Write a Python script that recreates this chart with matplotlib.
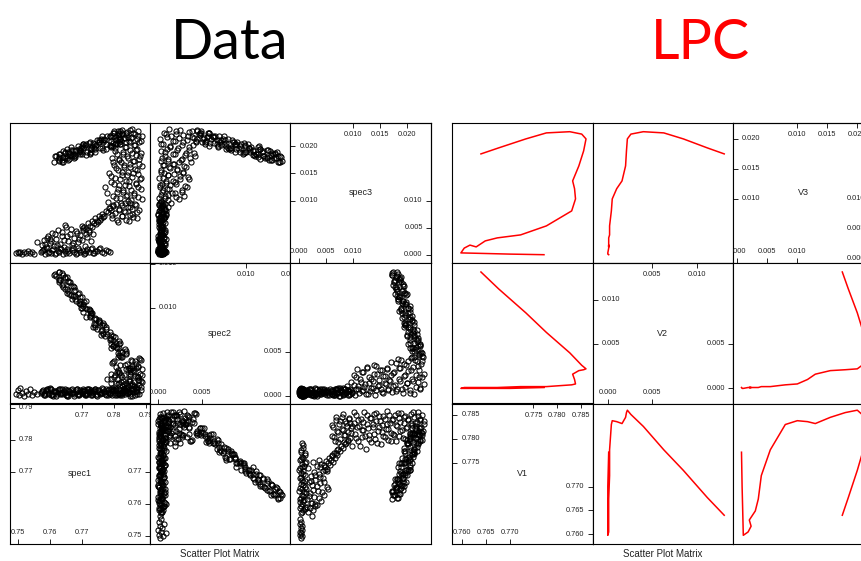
import numpy as np
import matplotlib
matplotlib.use('Agg')
from matplotlib import pyplot as plt

# ---- data points (spec1, spec2, spec3), grouped by the part of the cloud they sit in ----
low_cluster = [
    (0.7494, 0.0002, 0.0004), (0.7499, 0.0006, 0.0006), (0.7503, 0.0001, 0.0003),
    (0.7508, 0.0009, 0.0005), (0.7512, 0.0003, 0.0002), (0.7518, 0.0000, 0.0006),
    (0.7524, 0.0005, 0.0004), (0.7531, 0.0002, 0.0007), (0.7537, 0.0007, 0.0003),
    (0.7544, 0.0001, 0.0005), (0.7551, 0.0004, 0.0002),
]

bottom_line = [
    (0.7571, 0.0003, 0.0005), (0.7579, 0.0006, 0.0009), (0.7586, 0.0001, 0.0002),
    (0.7590, 0.0005, 0.0012), (0.7598, 0.0002, 0.0006), (0.7604, 0.0007, 0.0003),
    (0.7611, 0.0000, 0.0010), (0.7619, 0.0004, 0.0004), (0.7625, 0.0006, 0.0008),
    (0.7632, 0.0002, 0.0013), (0.7640, 0.0003, 0.0001), (0.7646, 0.0008, 0.0007),
    (0.7653, 0.0001, 0.0011), (0.7661, 0.0005, 0.0004), (0.7668, 0.0003, 0.0009),
    (0.7674, 0.0000, 0.0006), (0.7681, 0.0006, 0.0002), (0.7689, 0.0002, 0.0012),
    (0.7695, 0.0004, 0.0005), (0.7702, 0.0007, 0.0008), (0.7710, 0.0001, 0.0003),
    (0.7717, 0.0003, 0.0010), (0.7723, 0.0005, 0.0006), (0.7731, 0.0002, 0.0013),
    (0.7738, 0.0006, 0.0004), (0.7746, 0.0000, 0.0007), (0.7753, 0.0004, 0.0011),
    (0.7762, 0.0003, 0.0005), (0.7775, 0.0007, 0.0009), (0.7789, 0.0002, 0.0006),
    (0.7575, 0.0005, 0.0007), (0.7583, 0.0002, 0.0011), (0.7594, 0.0007, 0.0004),
    (0.7607, 0.0001, 0.0009), (0.7615, 0.0004, 0.0002), (0.7628, 0.0008, 0.0006),
    (0.7636, 0.0003, 0.0010), (0.7649, 0.0006, 0.0003), (0.7657, 0.0000, 0.0008),
    (0.7671, 0.0004, 0.0012), (0.7684, 0.0007, 0.0004), (0.7692, 0.0002, 0.0009),
    (0.7706, 0.0005, 0.0001), (0.7714, 0.0001, 0.0007), (0.7727, 0.0006, 0.0011),
    (0.7735, 0.0003, 0.0003), (0.7742, 0.0008, 0.0008), (0.7758, 0.0002, 0.0012),
    (0.7768, 0.0005, 0.0004), (0.7783, 0.0001, 0.0008),
]

lower_cloud = [
    (0.7574, 0.0004, 0.0018), (0.7581, 0.0001, 0.0027), (0.7588, 0.0006, 0.0015),
    (0.7595, 0.0003, 0.0034), (0.7601, 0.0008, 0.0022), (0.7607, 0.0002, 0.0041),
    (0.7613, 0.0005, 0.0016), (0.7620, 0.0000, 0.0029), (0.7626, 0.0004, 0.0046),
    (0.7633, 0.0007, 0.0021), (0.7639, 0.0002, 0.0035), (0.7645, 0.0005, 0.0014),
    (0.7651, 0.0001, 0.0052), (0.7657, 0.0006, 0.0025), (0.7663, 0.0003, 0.0039),
    (0.7669, 0.0008, 0.0019), (0.7675, 0.0002, 0.0031), (0.7681, 0.0004, 0.0044),
    (0.7687, 0.0001, 0.0023), (0.7693, 0.0006, 0.0037), (0.7699, 0.0003, 0.0028),
    (0.7705, 0.0005, 0.0049), (0.7711, 0.0002, 0.0017), (0.7717, 0.0007, 0.0033),
    (0.7723, 0.0004, 0.0042), (0.7729, 0.0001, 0.0026), (0.7735, 0.0005, 0.0038),
    (0.7600, 0.0009, 0.0030), (0.7647, 0.0003, 0.0055), (0.7560, 0.0002, 0.0024),
    (0.7585, 0.0003, 0.0021), (0.7592, 0.0007, 0.0031), (0.7603, 0.0001, 0.0025),
    (0.7616, 0.0005, 0.0038), (0.7623, 0.0002, 0.0019), (0.7637, 0.0008, 0.0043),
    (0.7644, 0.0004, 0.0027), (0.7655, 0.0000, 0.0034), (0.7666, 0.0006, 0.0047),
    (0.7672, 0.0003, 0.0022), (0.7684, 0.0007, 0.0040), (0.7690, 0.0001, 0.0030),
    (0.7701, 0.0005, 0.0053), (0.7713, 0.0002, 0.0039), (0.7721, 0.0008, 0.0046),
    (0.7733, 0.0004, 0.0051), (0.7744, 0.0001, 0.0056), (0.7751, 0.0006, 0.0061),
    (0.7757, 0.0003, 0.0065), (0.7767, 0.0007, 0.0070),
]

lower_sweep = [
    (0.7702, 0.0003, 0.0045), (0.7708, 0.0006, 0.0052), (0.7714, 0.0002, 0.0048),
    (0.7720, 0.0008, 0.0058), (0.7726, 0.0004, 0.0054), (0.7731, 0.0001, 0.0063),
    (0.7737, 0.0005, 0.0059), (0.7742, 0.0007, 0.0067), (0.7748, 0.0002, 0.0062),
    (0.7753, 0.0006, 0.0071), (0.7759, 0.0003, 0.0068), (0.7764, 0.0009, 0.0076),
    (0.7770, 0.0004, 0.0072), (0.7775, 0.0001, 0.0081), (0.7781, 0.0006, 0.0078),
    (0.7786, 0.0003, 0.0086), (0.7792, 0.0008, 0.0083), (0.7797, 0.0005, 0.0090),
]

column_low = [
    (0.7812, 0.0002, 0.0061), (0.7838, 0.0005, 0.0064), (0.7795, 0.0001, 0.0067),
    (0.7861, 0.0008, 0.0069), (0.7824, 0.0003, 0.0072), (0.7849, 0.0000, 0.0074),
    (0.7803, 0.0006, 0.0077), (0.7872, 0.0004, 0.0079), (0.7831, 0.0009, 0.0081),
    (0.7816, 0.0002, 0.0083), (0.7857, 0.0007, 0.0085), (0.7788, 0.0003, 0.0087),
    (0.7843, 0.0011, 0.0089), (0.7825, 0.0001, 0.0091), (0.7868, 0.0005, 0.0092),
    (0.7806, 0.0008, 0.0094), (0.7851, 0.0002, 0.0095), (0.7835, 0.0006, 0.0096),
    (0.7846, 0.0004, 0.0062), (0.7809, 0.0001, 0.0065), (0.7871, 0.0007, 0.0068),
    (0.7827, 0.0003, 0.0071), (0.7793, 0.0009, 0.0073), (0.7858, 0.0000, 0.0076),
    (0.7834, 0.0005, 0.0079), (0.7880, 0.0002, 0.0082), (0.7815, 0.0008, 0.0085),
    (0.7851, 0.0004, 0.0088), (0.7798, 0.0006, 0.0091), (0.7866, 0.0001, 0.0093),
]

column_mid = [
    (0.7781, 0.0004, 0.0098), (0.7853, 0.0012, 0.0101), (0.7819, 0.0001, 0.0104),
    (0.7877, 0.0021, 0.0106), (0.7797, 0.0008, 0.0109), (0.7842, 0.0003, 0.0111),
    (0.7864, 0.0016, 0.0114), (0.7809, 0.0027, 0.0116), (0.7830, 0.0006, 0.0119),
    (0.7886, 0.0010, 0.0121), (0.7772, 0.0002, 0.0124), (0.7848, 0.0031, 0.0126),
    (0.7815, 0.0014, 0.0129), (0.7869, 0.0005, 0.0131), (0.7792, 0.0019, 0.0134),
    (0.7838, 0.0009, 0.0136), (0.7881, 0.0025, 0.0139), (0.7803, 0.0001, 0.0141),
    (0.7857, 0.0034, 0.0143), (0.7826, 0.0011, 0.0146), (0.7874, 0.0018, 0.0148),
    (0.7786, 0.0007, 0.0151), (0.7845, 0.0029, 0.0153), (0.7812, 0.0003, 0.0156),
    (0.7866, 0.0022, 0.0158), (0.7833, 0.0013, 0.0161), (0.7889, 0.0030, 0.0163),
    (0.7799, 0.0006, 0.0165), (0.7851, 0.0017, 0.0168), (0.7822, 0.0024, 0.0170),
    (0.7821, 0.0015, 0.0096), (0.7843, 0.0003, 0.0099), (0.7887, 0.0024, 0.0102),
    (0.7806, 0.0008, 0.0105), (0.7839, 0.0030, 0.0108), (0.7862, 0.0011, 0.0110),
    (0.7779, 0.0019, 0.0113), (0.7829, 0.0005, 0.0116), (0.7855, 0.0027, 0.0119),
    (0.7812, 0.0013, 0.0122), (0.7876, 0.0033, 0.0125), (0.7836, 0.0002, 0.0128),
    (0.7801, 0.0021, 0.0130), (0.7868, 0.0009, 0.0133), (0.7848, 0.0017, 0.0136),
    (0.7818, 0.0035, 0.0139), (0.7884, 0.0006, 0.0142), (0.7790, 0.0025, 0.0145),
    (0.7841, 0.0012, 0.0147), (0.7859, 0.0029, 0.0150), (0.7824, 0.0004, 0.0153),
    (0.7873, 0.0022, 0.0156), (0.7807, 0.0014, 0.0159), (0.7850, 0.0032, 0.0162),
    (0.7832, 0.0007, 0.0165), (0.7878, 0.0018, 0.0167),
]

column_top = [
    (0.7860, 0.0004, 0.0172), (0.7817, 0.0026, 0.0174), (0.7878, 0.0012, 0.0177),
    (0.7795, 0.0037, 0.0179), (0.7842, 0.0008, 0.0181), (0.7869, 0.0031, 0.0184),
    (0.7828, 0.0017, 0.0186), (0.7884, 0.0041, 0.0188), (0.7805, 0.0003, 0.0191),
    (0.7851, 0.0022, 0.0193), (0.7873, 0.0010, 0.0195), (0.7836, 0.0035, 0.0198),
    (0.7791, 0.0014, 0.0200), (0.7862, 0.0028, 0.0202), (0.7819, 0.0006, 0.0204),
    (0.7880, 0.0043, 0.0207), (0.7847, 0.0019, 0.0209), (0.7808, 0.0033, 0.0211),
    (0.7871, 0.0002, 0.0213), (0.7833, 0.0024, 0.0215), (0.7856, 0.0039, 0.0217),
    (0.7887, 0.0015, 0.0219), (0.7814, 0.0029, 0.0221), (0.7866, 0.0009, 0.0223),
    (0.7840, 0.0036, 0.0225), (0.7877, 0.0021, 0.0227), (0.7826, 0.0044, 0.0229),
    (0.7858, 0.0013, 0.0231),
    (0.7797, 0.0038, 0.0170), (0.7863, 0.0011, 0.0173), (0.7816, 0.0027, 0.0176),
    (0.7845, 0.0005, 0.0179), (0.7883, 0.0042, 0.0182), (0.7811, 0.0019, 0.0185),
    (0.7856, 0.0032, 0.0187), (0.7830, 0.0008, 0.0190), (0.7870, 0.0036, 0.0193),
    (0.7803, 0.0023, 0.0196), (0.7838, 0.0014, 0.0199), (0.7865, 0.0040, 0.0202),
    (0.7820, 0.0003, 0.0204), (0.7852, 0.0029, 0.0207), (0.7885, 0.0017, 0.0210),
    (0.7813, 0.0044, 0.0213), (0.7844, 0.0010, 0.0216), (0.7875, 0.0034, 0.0219),
    (0.7826, 0.0021, 0.0222), (0.7861, 0.0007, 0.0224), (0.7800, 0.0039, 0.0227),
    (0.7849, 0.0025, 0.0230),
]

top_arm = [
    (0.78200, 0.00450, 0.02270), (0.78530, 0.00410, 0.02140),
    (0.78366, 0.00503, 0.02076), (0.78166, 0.00463, 0.02216),
    (0.78142, 0.00487, 0.02271), (0.78362, 0.00527, 0.02141),
    (0.78168, 0.00540, 0.02077), (0.77958, 0.00570, 0.02237),
    (0.77923, 0.00544, 0.02102), (0.78153, 0.00584, 0.02232),
    (0.78169, 0.00627, 0.02168), (0.77899, 0.00587, 0.02008),
    (0.77885, 0.00631, 0.02193), (0.78025, 0.00671, 0.02043),
    (0.77671, 0.00704, 0.02069), (0.77901, 0.00644, 0.02159),
    (0.77907, 0.00688, 0.01984), (0.77657, 0.00718, 0.02104),
    (0.77633, 0.00751, 0.02180), (0.77873, 0.00721, 0.02020),
    (0.77639, 0.00804, 0.01965), (0.77469, 0.00764, 0.02105),
    (0.77355, 0.00778, 0.02051), (0.77645, 0.00828, 0.01931),
    (0.77540, 0.00841, 0.02116), (0.77390, 0.00821, 0.01966),
    (0.77266, 0.00895, 0.01942), (0.77546, 0.00865, 0.02082),
    (0.77442, 0.00878, 0.02027), (0.77282, 0.00938, 0.01897),
    (0.77048, 0.00952, 0.02043), (0.77298, 0.00922, 0.01953),
    (0.77264, 0.00965, 0.01848), (0.77014, 0.00995, 0.02008),
    (0.77050, 0.01039, 0.01974), (0.77260, 0.00979, 0.01874),
    (0.77036, 0.01022, 0.02039), (0.76906, 0.01052, 0.01899),
    (0.76781, 0.01096, 0.01835), (0.77061, 0.01066, 0.01975),
    (0.76937, 0.01079, 0.01910), (0.76777, 0.01139, 0.01800),
    (0.76663, 0.01142, 0.01976), (0.76933, 0.01122, 0.01846),
    (0.76769, 0.01196, 0.01811), (0.76549, 0.01166, 0.01941),
    (0.76565, 0.01189, 0.01897), (0.76755, 0.01239, 0.01777),
    (0.76721, 0.01253, 0.01922), (0.76521, 0.01213, 0.01812),
    (0.76387, 0.01266, 0.01738), (0.76587, 0.01296, 0.01878),
    (0.76463, 0.01340, 0.01873), (0.76283, 0.01290, 0.01753),
    (0.76278, 0.01323, 0.01779), (0.76478, 0.01353, 0.01889),
    (0.76374, 0.01397, 0.01714), (0.76184, 0.01367, 0.01814),
    (0.76160, 0.01390, 0.01820), (0.76270, 0.01410, 0.01730),
    (0.78373, 0.00477, 0.02213), (0.78223, 0.00437, 0.02093),
    (0.78379, 0.00480, 0.02238), (0.78199, 0.00510, 0.02128),
    (0.78065, 0.00554, 0.02164), (0.78245, 0.00494, 0.02244),
    (0.78111, 0.00537, 0.02039), (0.77961, 0.00567, 0.02189),
    (0.78186, 0.00601, 0.02124), (0.77996, 0.00581, 0.02236),
    (0.77872, 0.00654, 0.02190), (0.78052, 0.00594, 0.02050),
    (0.77958, 0.00637, 0.02056), (0.77718, 0.00677, 0.02116),
    (0.77784, 0.00701, 0.02181), (0.77974, 0.00681, 0.02001),
    (0.77600, 0.00694, 0.02117), (0.77760, 0.00754, 0.02047),
    (0.77746, 0.00778, 0.01942), (0.77586, 0.00738, 0.02122),
    (0.77412, 0.00781, 0.02008), (0.77702, 0.00801, 0.02128),
    (0.77547, 0.00855, 0.02083), (0.77397, 0.00805, 0.01953),
    (0.77573, 0.00828, 0.01959), (0.77393, 0.00878, 0.02039),
    (0.77269, 0.00902, 0.02084), (0.77419, 0.00882, 0.01894),
    (0.77285, 0.00945, 0.01960), (0.77135, 0.00895, 0.02040),
    (0.77321, 0.00938, 0.02006), (0.77151, 0.00988, 0.01886),
    (0.76957, 0.01002, 0.01891), (0.77217, 0.00982, 0.02051),
    (0.77083, 0.00995, 0.02017), (0.76933, 0.01045, 0.01927),
    (0.77138, 0.01079, 0.01832), (0.76958, 0.01039, 0.01962),
    (0.76814, 0.01082, 0.01928), (0.77004, 0.01122, 0.01858),
    (0.76890, 0.01156, 0.01993), (0.76680, 0.01106, 0.01823),
    (0.76726, 0.01139, 0.01849), (0.76896, 0.01169, 0.01949),
    (0.76792, 0.01203, 0.01914), (0.76602, 0.01163, 0.01764),
    (0.76478, 0.01216, 0.01790), (0.76658, 0.01246, 0.01930),
    (0.76614, 0.01289, 0.01845), (0.76424, 0.01239, 0.01795),
    (0.76410, 0.01273, 0.01911), (0.76580, 0.01303, 0.01751),
    (0.76525, 0.01346, 0.01786), (0.76315, 0.01316, 0.01856),
    (0.76291, 0.01330, 0.01852), (0.76401, 0.01380, 0.01712),
    (0.76287, 0.01403, 0.01807), (0.76137, 0.01373, 0.01717),
]

# ---- local principal curve through the data ----
lpc_v1 = [0.7772, 0.7700, 0.7650, 0.7598, 0.7605, 0.7617, 0.7630, 0.7649, 0.7674,
          0.7723, 0.7777, 0.7830, 0.7838, 0.7836, 0.7832, 0.7845, 0.7855, 0.7860,
          0.7851, 0.7826, 0.7777, 0.7734, 0.7677, 0.7640]
lpc_v2 = [0.0001, 0.0000, 0.0000, 0.0000, 0.0001, 0.0001, 0.0001, 0.0001, 0.0001,
          0.0002, 0.0002, 0.0004, 0.0005, 0.0010, 0.0016, 0.0020, 0.0021, 0.0022,
          0.0026, 0.0040, 0.0063, 0.0085, 0.0112, 0.0131]
lpc_v3 = [0.0007, 0.0008, 0.0009, 0.0010, 0.0018, 0.0023, 0.0020, 0.0030, 0.0035,
          0.0040, 0.0055, 0.0080, 0.0100, 0.0117, 0.0130, 0.0155, 0.0180, 0.0200,
          0.0208, 0.0212, 0.0210, 0.0200, 0.0185, 0.0175]

data_names = ['spec1', 'spec2', 'spec3']
lpc_names = ['V1', 'V2', 'V3']

data_limits = [(0.7474, 0.7913), (-0.0009, 0.0151), (-0.0015, 0.0243)]
lpc_limits = [(0.7580, 0.7874), (-0.0017, 0.0141), (-0.0007, 0.0227)]

data_low_ticks = [[0.75, 0.76, 0.77], [0.000, 0.005], [0.000, 0.005, 0.010]]
data_high_ticks = [[0.77, 0.78, 0.79], [0.010, 0.015], [0.010, 0.015, 0.020]]
lpc_low_ticks = [[0.760, 0.765, 0.770], [0.000, 0.005], [0.000, 0.005, 0.010]]
lpc_high_ticks = [[0.775, 0.780, 0.785], [0.005, 0.010], [0.010, 0.015, 0.020]]
data_fmts = ['{:.2f}', '{:.3f}', '{:.3f}']
lpc_fmts = ['{:.3f}', '{:.3f}', '{:.3f}']

points = np.array(low_cluster + bottom_line + lower_cloud + lower_sweep
                  + column_low + column_mid + column_top + top_arm)
data_values = [points[:, 0], points[:, 1], points[:, 2]]
lpc_values = [np.array(lpc_v1), np.array(lpc_v2), np.array(lpc_v3)]

W, H = 862, 561
CELL = 140.4
TOP = 122.7
TICK_LEN = 3.6

plt.rcParams['font.family'] = ['Liberation Sans', 'DejaVu Sans']
fig = plt.figure(figsize=(W / 100, H / 100), dpi=100)
tick_kw = dict(fontsize=5.3, color='#222222', clip_on=True)


def diag_cell(ax, name, lim, low, high, fmt):
    ax.set_xlim(lim)
    ax.set_ylim(lim)
    ax.set_xticks(low)
    ax.set_yticks(high)
    ax.tick_params(direction='in', length=TICK_LEN, width=0.6,
                   labelbottom=False, labelleft=False)
    top = ax.secondary_xaxis('top')
    top.set_xticks(high)
    top.tick_params(direction='in', length=TICK_LEN, width=0.6, labeltop=False)
    right = ax.secondary_yaxis('right')
    right.set_yticks(low)
    right.tick_params(direction='in', length=TICK_LEN, width=0.6, labelright=False)
    for sec in (top, right):
        for s in sec.spines.values():
            s.set_linewidth(0.8)
    for v in low:
        ax.text(v, 0.08, fmt.format(v), transform=ax.get_xaxis_transform(),
                ha='center', va='center', **tick_kw)
        ax.text(0.942, v, fmt.format(v), transform=ax.get_yaxis_transform(),
                ha='right', va='center', **tick_kw)
    for v in high:
        ax.text(v, 0.918, fmt.format(v), transform=ax.get_xaxis_transform(),
                ha='center', va='center', **tick_kw)
        ax.text(0.064, v, fmt.format(v), transform=ax.get_yaxis_transform(),
                ha='left', va='center', **tick_kw)
    ax.text(0.5, 0.5, name, transform=ax.transAxes, ha='center', va='center',
            fontsize=6.5, color='#222222')


def splom(x0, values, names, limits, low_ticks, high_ticks, fmts, draw):
    for r in range(3):
        for c in range(3):
            ix, iy = c, 2 - r
            left = x0 + c * CELL
            top = TOP + r * CELL
            ax = fig.add_axes([left / W, 1 - (top + CELL) / H, CELL / W, CELL / H])
            for s in ax.spines.values():
                s.set_linewidth(0.8)
            if ix == iy:
                diag_cell(ax, names[ix], limits[ix], low_ticks[ix], high_ticks[ix], fmts[ix])
            else:
                ax.set_xlim(limits[ix])
                ax.set_ylim(limits[iy])
                ax.set_xticks([])
                ax.set_yticks([])
                draw(ax, values[ix], values[iy])


def draw_points(ax, x, y):
    ax.plot(x, y, 'o', markersize=3.7, markerfacecolor='none',
            markeredgecolor='black', markeredgewidth=0.75)


def draw_curve(ax, x, y):
    ax.plot(x, y, color='red', linewidth=1.1)


splom(9.6, data_values, data_names, data_limits, data_low_ticks, data_high_ticks,
      data_fmts, draw_points)
splom(452.3, lpc_values, lpc_names, lpc_limits, lpc_low_ticks, lpc_high_ticks,
      lpc_fmts, draw_curve)

fig.text(230 / W, 1 - 59 / H, 'Data', fontsize=40, family='Lato',
         ha='center', va='baseline', color='black')
fig.text(700 / W, 1 - 59 / H, 'LPC', fontsize=40, family='Lato',
         ha='center', va='baseline', color='red')
fig.text(220 / W, 1 - 554 / H, 'Scatter Plot Matrix', fontsize=7,
         ha='center', va='center', color='#222222')
fig.text(663 / W, 1 - 554 / H, 'Scatter Plot Matrix', fontsize=7,
         ha='center', va='center', color='#222222')

fig.savefig('out.png', dpi=100)
